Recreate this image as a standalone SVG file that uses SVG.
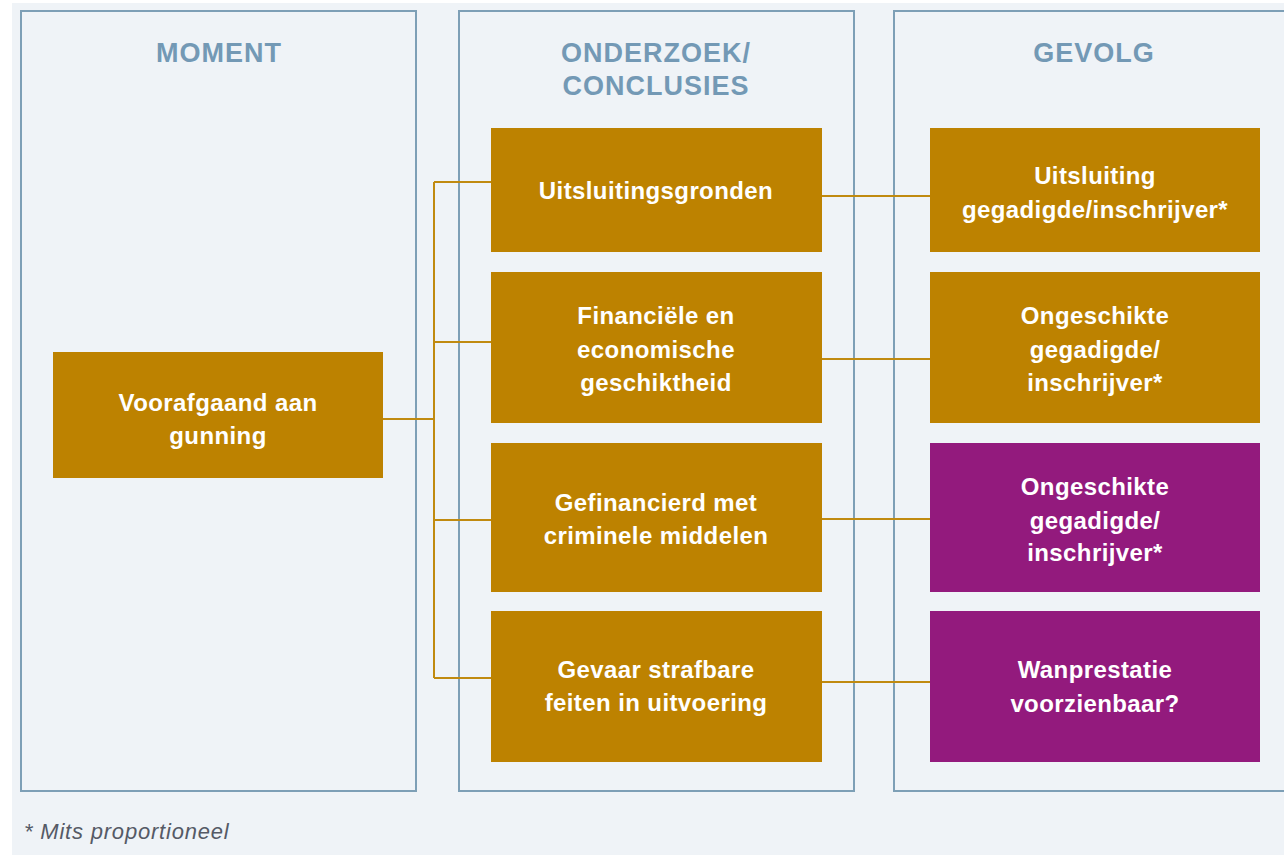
<svg xmlns="http://www.w3.org/2000/svg" width="1284" height="855" viewBox="0 0 1284 855">
<style>
.panel{fill:none;stroke:#7d9fb6;stroke-width:2}
.title{font-family:"Liberation Sans",Arial,sans-serif;font-weight:bold;font-size:27px;fill:#7399b5;text-anchor:middle;letter-spacing:1px}
.gold{fill:#bd8200}
.purple{fill:#931a7d}
.lbl{font-family:"Liberation Sans",Arial,sans-serif;font-weight:bold;font-size:24px;fill:#ffffff;text-anchor:middle;letter-spacing:0.4px}
.conn{fill:none;stroke:#c08a10;stroke-width:2}
.foot{font-family:"Liberation Sans",Arial,sans-serif;font-style:italic;font-size:22px;fill:#555a66;letter-spacing:0.8px}
</style>
<rect x="0" y="0" width="1284" height="855" fill="#ffffff"/>
<rect x="12" y="3" width="1272" height="852" fill="#eff3f7"/>
<g id="panels">
<rect class="panel" x="21" y="11" width="395" height="780"/>
<rect class="panel" x="459" y="11" width="395" height="780"/>
<rect class="panel" x="894" y="11" width="400" height="780"/>
<text class="title" x="219" y="62">MOMENT</text>
<text class="title" x="656" y="62">ONDERZOEK/</text>
<text class="title" x="656" y="95">CONCLUSIES</text>
<text class="title" x="1094" y="62">GEVOLG</text>
</g>
<g id="connectors">
<path class="conn" d="M383 419H434M434 182V678M434 182H491M434 342H491M434 520H491M434 678H491"/>
<path class="conn" d="M822 196H930M822 359H930M822 519H930M822 682H930"/>
</g>
<g id="node-voorafgaand">
<rect class="gold" x="53" y="352" width="330" height="126"/>
<text class="lbl" x="218" y="411">Voorafgaand aan</text>
<text class="lbl" x="218" y="444">gunning</text>
</g>
<g id="node-uitsluitingsgronden">
<rect class="gold" x="491" y="128" width="331" height="124"/>
<text class="lbl" x="656" y="199">Uitsluitingsgronden</text>
</g>
<g id="node-financieel">
<rect class="gold" x="491" y="272" width="331" height="151"/>
<text class="lbl" x="656" y="324">Financiële en</text>
<text class="lbl" x="656" y="358">economische</text>
<text class="lbl" x="656" y="391">geschiktheid</text>
</g>
<g id="node-gefinancierd">
<rect class="gold" x="491" y="443" width="331" height="149"/>
<text class="lbl" x="656" y="511">Gefinancierd met</text>
<text class="lbl" x="656" y="544">criminele middelen</text>
</g>
<g id="node-gevaar">
<rect class="gold" x="491" y="611" width="331" height="151"/>
<text class="lbl" x="656" y="678">Gevaar strafbare</text>
<text class="lbl" x="656" y="711">feiten in uitvoering</text>
</g>
<g id="node-uitsluiting">
<rect class="gold" x="930" y="128" width="330" height="124"/>
<text class="lbl" x="1095" y="184">Uitsluiting</text>
<text class="lbl" x="1095" y="218">gegadigde/inschrijver*</text>
</g>
<g id="node-ongeschikt1">
<rect class="gold" x="930" y="272" width="330" height="151"/>
<text class="lbl" x="1095" y="324">Ongeschikte</text>
<text class="lbl" x="1095" y="358">gegadigde/</text>
<text class="lbl" x="1095" y="391">inschrijver*</text>
</g>
<g id="node-ongeschikt2">
<rect class="purple" x="930" y="443" width="330" height="149"/>
<text class="lbl" x="1095" y="495">Ongeschikte</text>
<text class="lbl" x="1095" y="529">gegadigde/</text>
<text class="lbl" x="1095" y="561">inschrijver*</text>
</g>
<g id="node-wanprestatie">
<rect class="purple" x="930" y="611" width="330" height="151"/>
<text class="lbl" x="1095" y="678">Wanprestatie</text>
<text class="lbl" x="1095" y="712">voorzienbaar?</text>
</g>
<text class="foot" x="24" y="839">* Mits proportioneel</text>
</svg>
